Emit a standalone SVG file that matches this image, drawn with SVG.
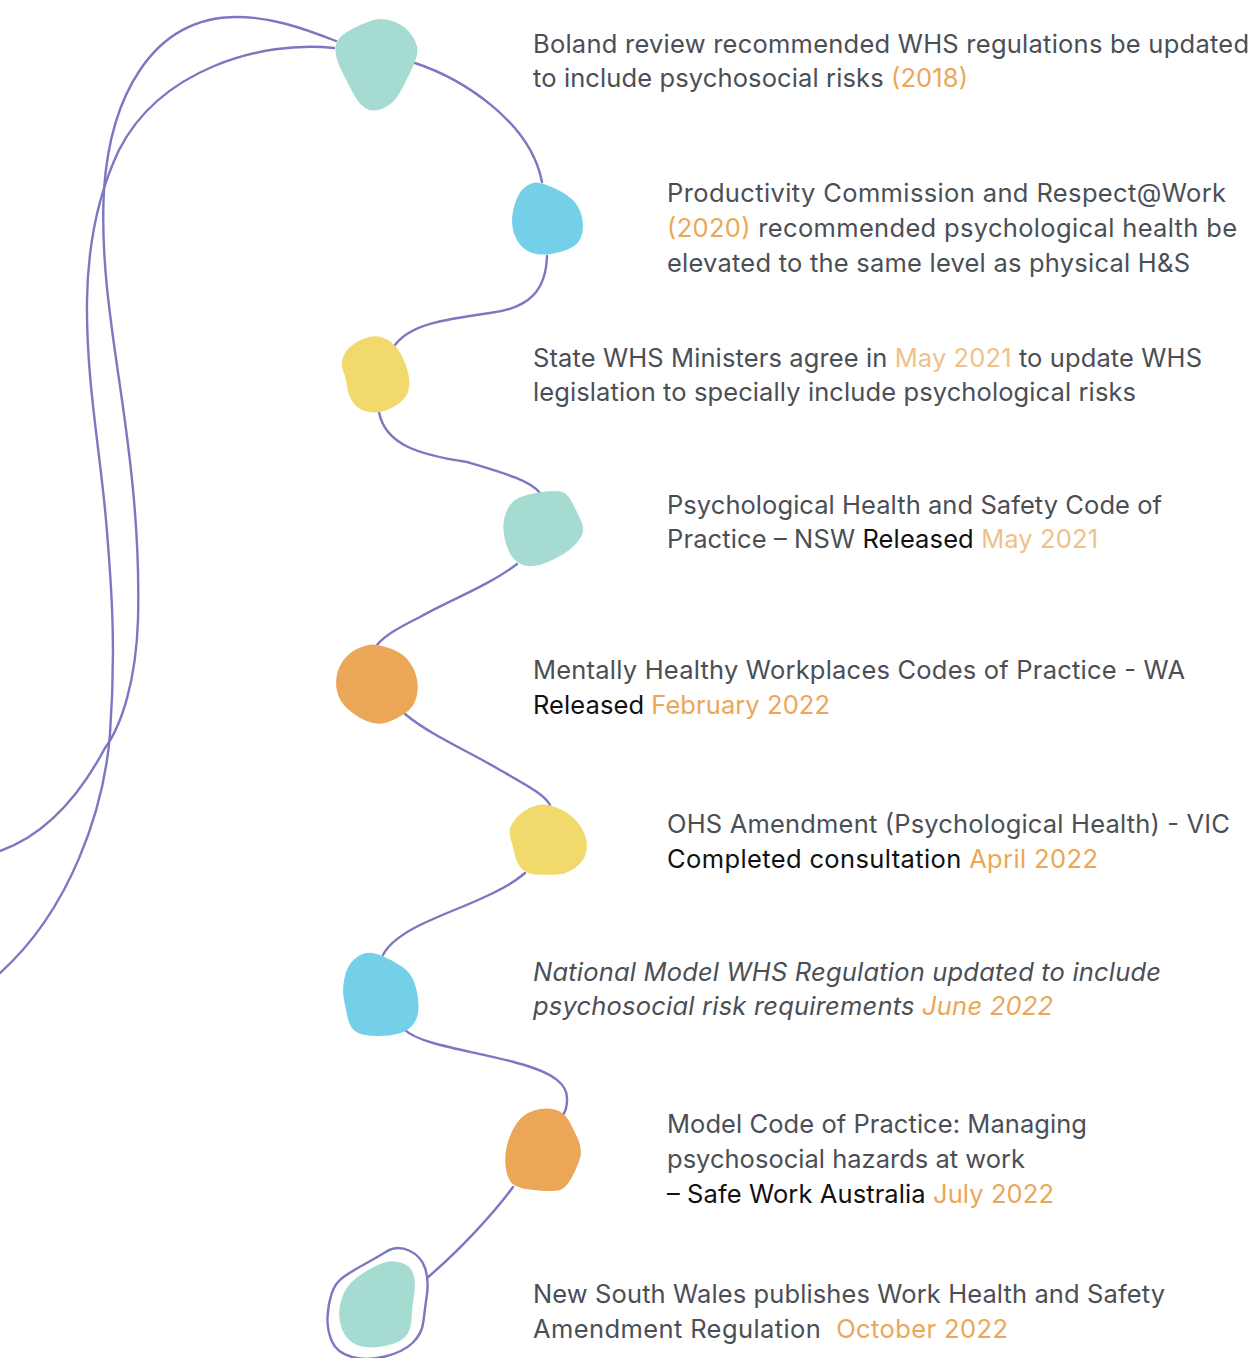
<svg xmlns="http://www.w3.org/2000/svg" width="1253" height="1358" viewBox="0 0 1253 1358">
<style>
.c{fill:none;stroke:#7b78c1;stroke-width:2.4;stroke-linecap:round}
.t{font-family:Inter,"Noto Sans","Liberation Sans",sans-serif;font-size:25.5px;fill:#4b4f55}
.o{fill:#eba756}
.lo{fill:#f0c187}
.k{fill:#111111}
.teal{fill:#a5dbd1}
.blue{fill:#74cfe8}
.yel{fill:#f1da6b}
.org{fill:#eba757}
</style>
<rect width="1253" height="1358" fill="#ffffff"/>
<g id="connectors">
<path class="c" d="M336,41 C300,27 270,17 237,17 C150,17 110,100 104,190 C100,260 112,330 122,400 C132,470 140,540 138,620 C136,680 122,725 105,748 C80,795 45,835 0,851"/>
<path class="c" d="M334,48 C260,40 160,70 119,150 C100,190 88,240 87,300 C86,380 100,450 106,520 C112,590 116,650 110,734 C104,810 70,910 0,973"/>
<path class="c" d="M415,63 C460,78 530,120 542,182"/>
<path class="c" d="M547,256 C546,290 530,308 490,313 C440,320 410,325 395,345"/>
<path class="c" d="M379,412 C385,445 420,455 467,462 C500,472 530,480 540,493"/>
<path class="c" d="M517,564 C490,585 450,600 420,617 C400,627 385,635 377,645"/>
<path class="c" d="M405,714 C430,735 470,752 500,770 C530,787 545,795 550,805"/>
<path class="c" d="M525,873 C500,895 450,910 420,925 C400,935 388,945 383,955"/>
<path class="c" d="M405,1030 C420,1045 480,1052 517,1063 C555,1073 568,1085 567,1100 C567,1107 565,1112 563,1115"/>
<path class="c" d="M513,1187 C495,1212 460,1250 427,1278"/>
</g>
<g id="node-1">
<path class="teal" d="M395,22 Q407,27 413,37 Q419,47 417,55 Q415,63 409,75 Q403,87 399,94 Q394,103 384,108 Q373,113 365,108 Q358,103 353,93 Q347,82 342,71.5 Q336,60 335.5,51.5 Q335,43 339.5,38 Q344,33 354,28 Q364,23 373.5,20 Q383,17 395,22 Z"/>
<text class="t" x="533" y="53" textLength="716" lengthAdjust="spacing">Boland review recommended WHS regulations be updated</text>
<text class="t" x="533" y="87" textLength="435" lengthAdjust="spacing">to include psychosocial risks <tspan class="o">(2018)</tspan></text>
</g>
<g id="node-2">
<path class="blue" d="M555,188.5 Q569,195 575,202.5 Q581,210 582.5,220 Q584,230 580.5,238.5 Q577,247 562,251.5 Q547,256 536.5,254 Q526,252 520,244.5 Q514,237 512.5,227 Q511,217 514.5,205 Q518,193 524,188 Q530,183 535.5,182.5 Q541,182 555,188.5 Z"/>
<text class="t" x="667" y="202" textLength="559" lengthAdjust="spacing">Productivity Commission and Respect@Work</text>
<text class="t" x="667" y="237" textLength="570" lengthAdjust="spacing"><tspan class="o">(2020)</tspan> recommended psychological health be</text>
<text class="t" x="667" y="272" textLength="523" lengthAdjust="spacing">elevated to the same level as physical H&amp;S</text>
</g>
<g id="node-3">
<path class="yel" d="M382.5,337.5 Q392,341 398,349.5 Q404,358 407.5,370.5 Q411,383 408,392 Q405,401 392.5,407.5 Q380,414 369,412 Q358,410 353,402.5 Q348,395 347,386 Q346,377 343,370.5 Q340,364 344,355 Q348,346 360.5,340 Q373,334 382.5,337.5 Z"/>
<text class="t" x="533" y="367" textLength="669" lengthAdjust="spacing">State WHS Ministers agree in <tspan class="lo">May 2021</tspan> to update WHS</text>
<text class="t" x="533" y="401" textLength="603" lengthAdjust="spacing">legislation to specially include psychological risks</text>
</g>
<g id="node-4">
<path class="teal" d="M542,492 Q557,490 562.5,492 Q568,494 573,504 Q578,514 581.5,522 Q585,530 581,537 Q577,544 568.5,550.5 Q560,557 546.5,562.5 Q533,568 524.5,565.5 Q516,563 511,555 Q506,547 504,535 Q502,523 506,512.5 Q510,502 518.5,498 Q527,494 542,492 Z"/>
<text class="t" x="667" y="514" textLength="495" lengthAdjust="spacing">Psychological Health and Safety Code of</text>
<text class="t" x="667" y="548" textLength="431" lengthAdjust="spacing">Practice – NSW <tspan class="k">Released</tspan> <tspan class="lo">May 2021</tspan></text>
</g>
<g id="node-5">
<path class="org" d="M389,648 Q401,652 407.5,659.5 Q414,667 416.5,677 Q419,687 416.5,697 Q414,707 405.5,713 Q397,719 388.5,722 Q380,725 371,722.5 Q362,720 352,712.5 Q342,705 338.5,696 Q335,687 336.5,677 Q338,667 344,659.5 Q350,652 358,648.5 Q366,645 371.5,644.5 Q377,644 389,648 Z"/>
<text class="t" x="533" y="679" textLength="652" lengthAdjust="spacing">Mentally Healthy Workplaces Codes of Practice - WA</text>
<text class="t" x="533" y="714" textLength="297" lengthAdjust="spacing"><tspan class="k">Released</tspan> <tspan class="o">February 2022</tspan></text>
</g>
<g id="node-6">
<path class="yel" d="M556.5,807.5 Q568,812 575.5,820 Q583,828 585.5,836.5 Q588,845 586,853 Q584,861 575.5,867.5 Q567,874 557,874.5 Q547,875 537,874.5 Q527,874 522,869 Q517,864 515,855.5 Q513,847 510.5,838.5 Q508,830 512.5,823 Q517,816 523.5,811.5 Q530,807 537.5,805 Q545,803 556.5,807.5 Z"/>
<text class="t" x="667" y="833" textLength="563" lengthAdjust="spacing">OHS Amendment (Psychological Health) - VIC</text>
<text class="t" x="667" y="868" textLength="431" lengthAdjust="spacing"><tspan class="k">Completed consultation</tspan> <tspan class="o">April 2022</tspan></text>
</g>
<g id="node-7">
<path class="blue" d="M383.5,956.5 Q394,961 402.5,967 Q411,973 414.5,983 Q418,993 418.5,1005 Q419,1017 413.5,1024 Q408,1031 399,1033.5 Q390,1036 376.5,1036 Q363,1036 356.5,1032 Q350,1028 348,1019 Q346,1010 344,1000 Q342,990 344.5,978 Q347,966 353.5,960 Q360,954 366.5,953 Q373,952 383.5,956.5 Z"/>
<text class="t" x="533" y="981" font-style="italic" textLength="628" lengthAdjust="spacing">National Model WHS Regulation updated to include</text>
<text class="t" x="533" y="1015" font-style="italic" textLength="520" lengthAdjust="spacing">psychosocial risk requirements <tspan class="o">June 2022</tspan></text>
</g>
<g id="node-8">
<path class="org" d="M554.5,1109.5 Q564,1112 568.5,1120 Q573,1128 578,1139 Q583,1150 579.5,1160 Q576,1170 571.5,1178 Q567,1186 562,1189 Q557,1192 538.5,1190.5 Q520,1189 514,1185 Q508,1181 506,1169 Q504,1157 507,1145 Q510,1133 516.5,1123.5 Q523,1114 534,1110.5 Q545,1107 554.5,1109.5 Z"/>
<text class="t" x="667" y="1133" textLength="420" lengthAdjust="spacing">Model Code of Practice: Managing</text>
<text class="t" x="667" y="1168" textLength="358" lengthAdjust="spacing">psychosocial hazards at work</text>
<text class="t" x="667" y="1203" textLength="387" lengthAdjust="spacing"><tspan class="k">– Safe Work Australia</tspan> <tspan class="o">July 2022</tspan></text>
</g>
<g id="node-9">
<path fill="#ffffff" stroke="#7b78c1" stroke-width="2.4" d="M409,1250.5 Q421,1256 425,1268 Q429,1280 427,1294 Q425,1308 423.5,1321 Q422,1334 412.5,1343 Q403,1352 385,1356.5 Q367,1361 352,1357 Q337,1353 332,1341.5 Q327,1330 327.5,1317.5 Q328,1305 331.5,1294 Q335,1283 343.5,1277 Q352,1271 364,1264.5 Q376,1258 386.5,1251.5 Q397,1245 409,1250.5 Z"/>
<path class="teal" d="M402,1263 Q411,1266 413.5,1274.5 Q416,1283 414,1295 Q412,1307 411.5,1319.5 Q411,1332 404,1338 Q397,1344 382,1346.5 Q367,1349 357,1345 Q347,1341 342.5,1330.5 Q338,1320 339.5,1308.5 Q341,1297 346.5,1288.5 Q352,1280 364,1272.5 Q376,1265 384.5,1262.5 Q393,1260 402,1263 Z"/>
<text class="t" x="533" y="1303" textLength="632" lengthAdjust="spacing">New South Wales publishes Work Health and Safety</text>
<text class="t" x="533" y="1338" textLength="475" lengthAdjust="spacing" xml:space="preserve">Amendment Regulation  <tspan class="o">October 2022</tspan></text>
</g>
</svg>
